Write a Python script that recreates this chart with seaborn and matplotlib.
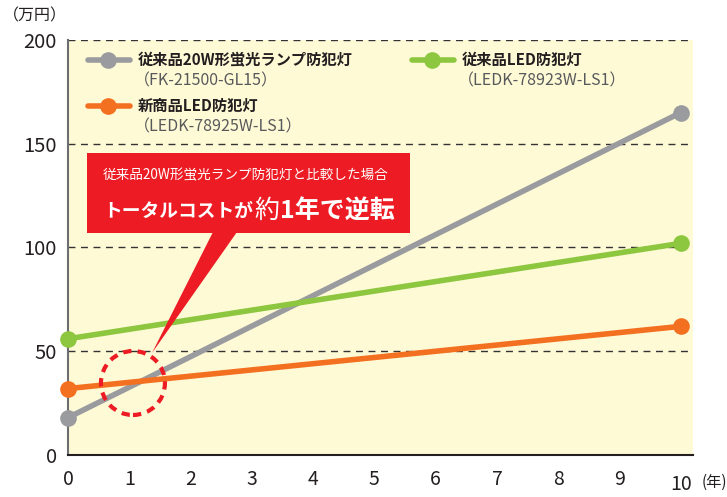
import matplotlib
matplotlib.use("Agg")
import matplotlib.pyplot as plt
import matplotlib.transforms as mtransforms
import seaborn as sns
import pandas as pd
from matplotlib.patches import Ellipse, Polygon, Rectangle
from matplotlib.lines import Line2D

# data (万円)
years = [0, 10]
old_fl = [18, 165]     # 従来品20W形蛍光ランプ防犯灯
old_led = [56, 102]    # 従来品LED防犯灯
new_led = [32, 62]     # 新商品LED防犯灯

series_names = ["従来品20W形蛍光ランプ防犯灯", "従来品LED防犯灯", "新商品LED防犯灯"]
series_codes = ["（FK-21500-GL15）", "（LEDK-78923W-LS1）", "（LEDK-78925W-LS1）"]
colors = ["#9a9b9f", "#8dc63f", "#f37021"]

x_ticks = list(range(11))
y_ticks = [0, 50, 100, 150, 200]

df = pd.DataFrame({
    "year": years * 3,
    "cost": old_fl + old_led + new_led,
    "name": [series_names[0]] * 2 + [series_names[1]] * 2 + [series_names[2]] * 2,
})

sns.set_style("white")
plt.rcParams['font.family'] = ['Noto Sans CJK JP', 'DejaVu Sans']

fig = plt.figure(figsize=(7.27, 4.97), dpi=100)
ax = fig.add_axes([68 / 727, 1 - 455 / 497, (693 - 68) / 727, (455 - 40) / 497])
ax.set_facecolor("#fffad6")

sns.lineplot(data=df, x="year", y="cost", hue="name", hue_order=series_names,
             palette=colors, linewidth=4, marker="o", markersize=12,
             markeredgewidth=0, legend=False, ax=ax, zorder=3)
for l in ax.lines:
    l.set_clip_on(False)

ax.set_xlim(0, 10.2)
ax.set_ylim(0, 200)
ax.set_xticks(x_ticks)
ax.set_yticks(y_ticks)
ax.set_xlabel("")
ax.set_ylabel("")
for y in y_ticks[1:]:
    ax.axhline(y, color="#333333", lw=1, ls=(0, (5, 4)), zorder=1)

for s in ["top", "right"]:
    ax.spines[s].set_visible(False)
ax.spines["left"].set_color("#6d6e71")
ax.spines["left"].set_linewidth(1.5)
ax.spines["bottom"].set_color("#231f20")
ax.spines["bottom"].set_linewidth(1.5)
ax.tick_params(axis="x", direction="out", length=6, width=1.2, color="#6d6e71",
               labelsize=14, labelcolor="#231f20", pad=4)
ax.tick_params(axis="y", length=0, labelsize=14.5, labelcolor="#231f20", pad=8)

# last year label sits a little lower
last = ax.get_xticklabels()[-1]
last.set_transform(last.get_transform() + mtransforms.ScaledTranslation(0, -5 / 100, fig.dpi_scale_trans))

fig.text(3 / 727, 1 - 16 / 497, "（万円）", fontsize=11.5, color="#231f20", va="center")
fig.text(1.0, 1 - 482 / 497, "(年)", fontsize=11, color="#231f20", va="center", ha="right")

# legend drawn by hand
def legend_item(x0, y0, color, name, code):
    fig.add_artist(Line2D([x0 / 727, (x0 + 42) / 727], [1 - y0 / 497] * 2, color=color, lw=4))
    fig.add_artist(Line2D([(x0 + 20) / 727], [1 - y0 / 497], color=color, marker="o",
                          markersize=12, markeredgewidth=0))
    fig.text((x0 + 50) / 727, 1 - y0 / 497, name, fontsize=11, fontweight="bold",
             color="#231f20", va="center")
    fig.text((x0 + 46) / 727, 1 - (y0 + 21) / 497, code, fontsize=11.5,
             color="#58595b", va="center")

legend_item(88, 60, colors[0], series_names[0], series_codes[0])
legend_item(412, 60, colors[1], series_names[1], series_codes[1])
legend_item(88, 106, colors[2], series_names[2], series_codes[2])

# callout
red = "#ed1c24"
fig.add_artist(Rectangle((87 / 727, 1 - 233 / 497), (410 - 87) / 727, (233 - 153) / 497,
                         facecolor=red, edgecolor="none", zorder=5))
fig.add_artist(Polygon([(213 / 727, 1 - 232 / 497), (237 / 727, 1 - 232 / 497),
                        (152 / 727, 1 - 353 / 497)], closed=True,
                       facecolor=red, edgecolor="none", zorder=5))
ax.add_patch(Ellipse((1.06, 34.7), 64 / 61.3, 64 / 2.075, fill=False,
                     edgecolor=red, lw=3, ls=(0, (2, 1.5)), zorder=4))

fig.text(103 / 727, 1 - 175 / 497, "従来品20W形蛍光ランプ防犯灯と比較した場合",
         fontsize=9.8, color="white", va="center", zorder=6)

renderer = fig.canvas.get_renderer()
x = 103 / 727
parts = [("トータルコストが", 13.5, "bold"), ("約", 18, "normal"), ("1年で逆転", 18, "bold")]
for txt, fs, fw in parts:
    t = fig.text(x, 1 - 211 / 497, txt, fontsize=fs, fontweight=fw, color="white",
                 va="center", zorder=6)
    bb = t.get_window_extent(renderer)
    x = (bb.x1 + 1) / 727

plt.savefig("out.png", dpi=100)
